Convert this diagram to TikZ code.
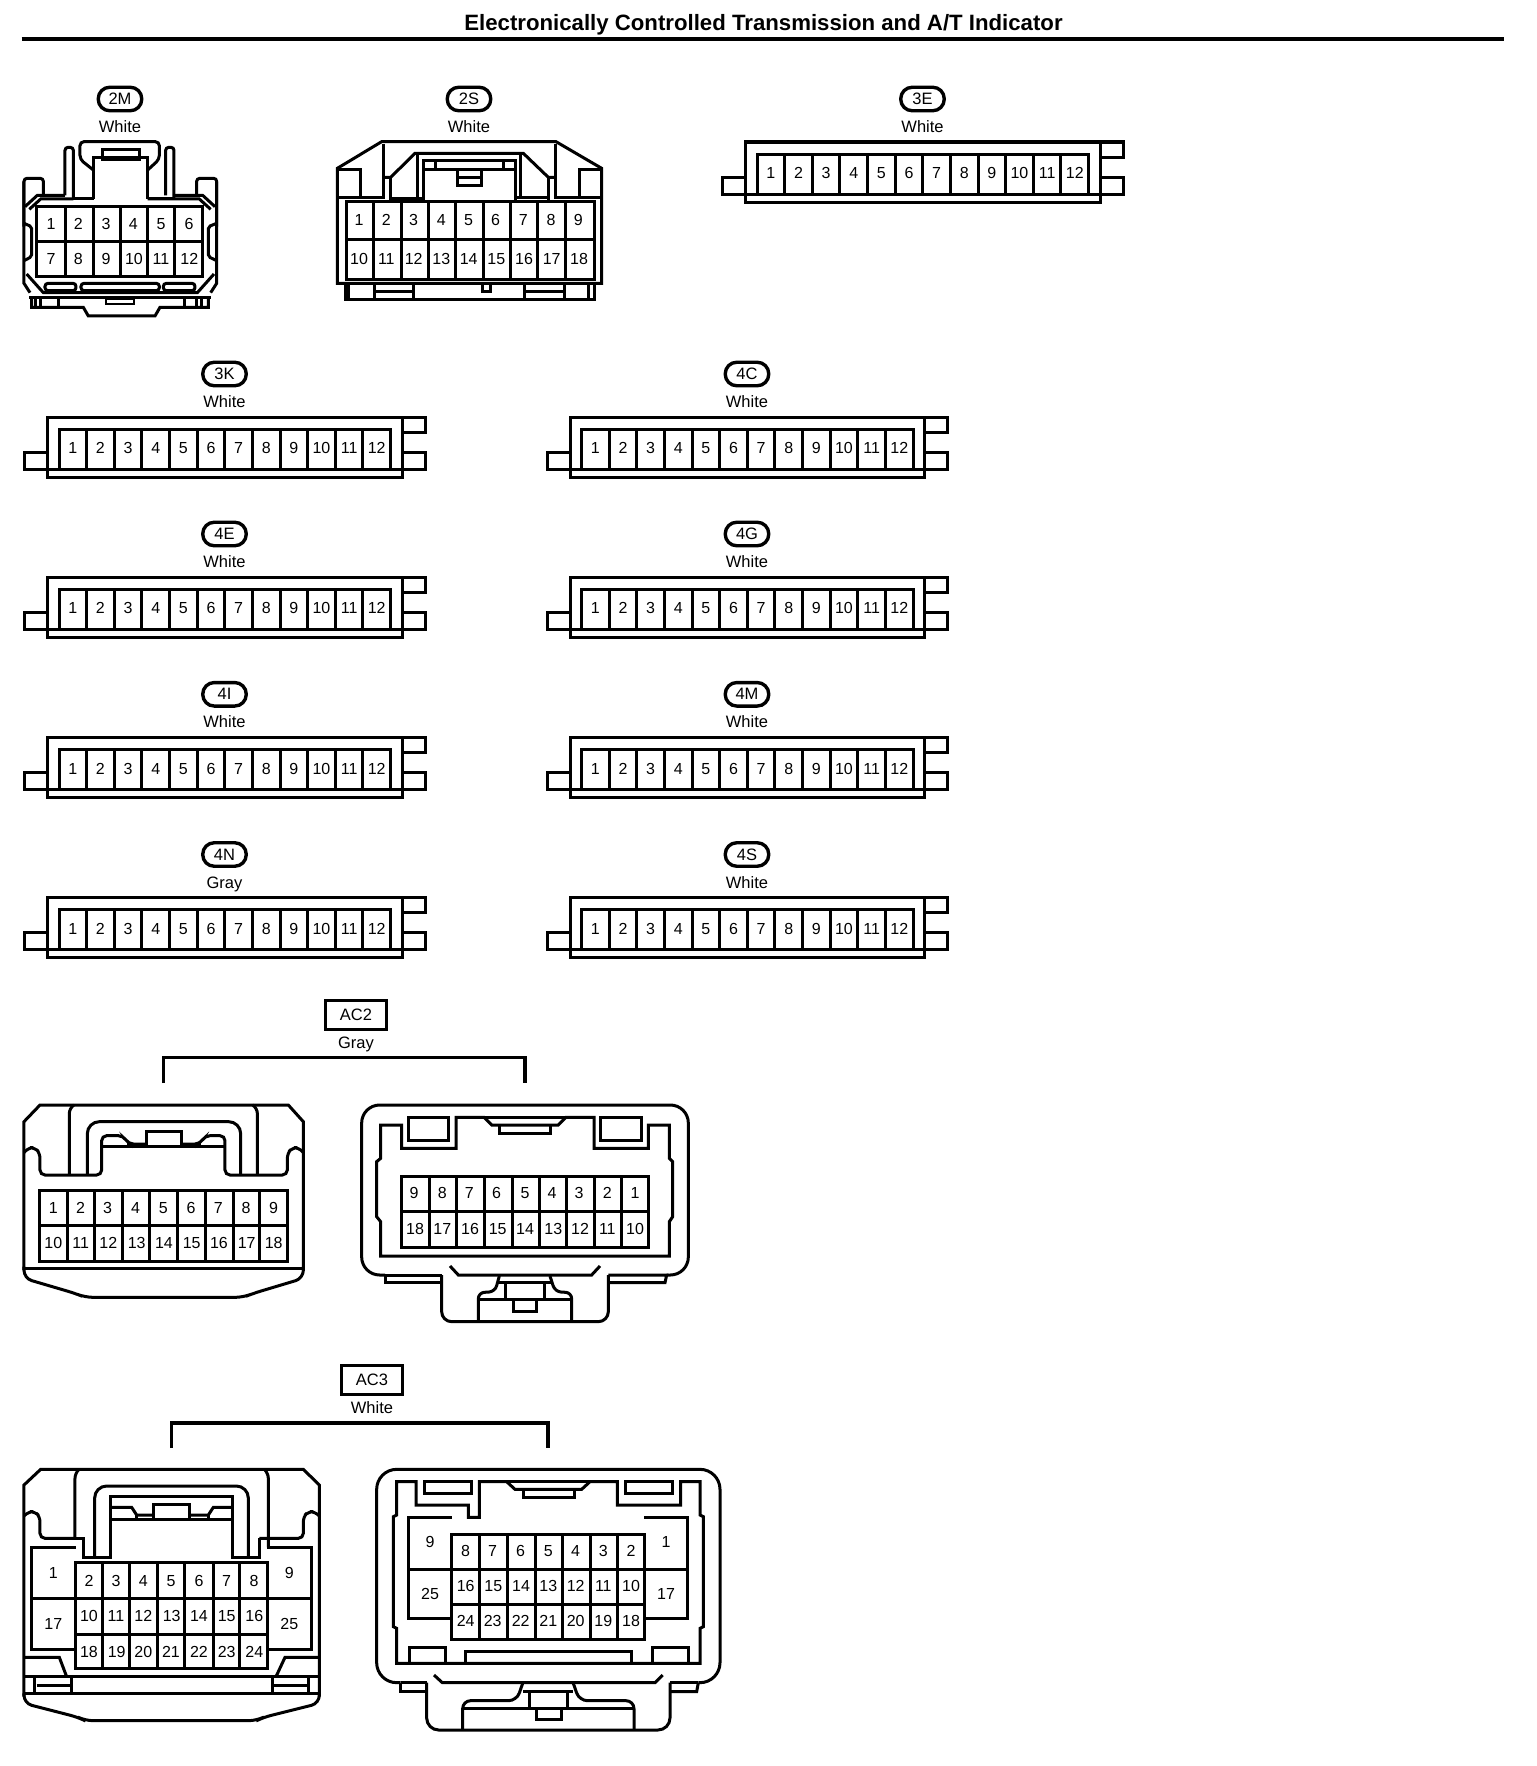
\documentclass[tikz,border=0pt]{standalone}
\usepackage{fontspec}
\setmainfont{Liberation Sans}
\newcommand{\numfont}{\fontsize{16}{16}\selectfont}
\tikzset{
  conn/.style={draw=black,line width=3pt,line join=miter},
  pinlabel/.style={inner sep=0pt,font=\numfont,text=black,text height=11.5pt,text depth=0pt},
  colorlabel/.style={inner sep=0pt,font=\fontsize{16.5}{16.5}\selectfont,text=black,text height=12pt,text depth=3pt},
  badge/.style={draw=black,line width=3.4pt,rounded corners=11.5pt,minimum width=43.5pt,minimum height=23.5pt,inner sep=0pt,font=\fontsize{16.5}{16.5}\selectfont},
  tagbox/.style={draw=black,line width=3pt,minimum width=61pt,minimum height=29pt,inner sep=0pt,font=\fontsize{16.5}{16.5}\selectfont},
  bracket/.style={draw=black,line width=3.2pt,line join=miter}
}
\newcommand{\zcells}[6]{%
  \draw[conn] (#1,#3) rectangle (#2,#4);
  \foreach \vx in {#5} \draw[conn] (\vx,#3) -- (\vx,#4);
  \foreach \hy in {#6} \draw[conn] (#1,\hy) -- (#2,\hy);
}
\newcommand{\zpins}[3]{\foreach \px/\pn in {#3} \node[pinlabel,yshift=-0.4pt] (#1-\pn) at (\px,#2) {\pn};}
\newcommand{\stripconn}[4]{%
  \begin{scope}[shift={(#3,#4)}]
    \node[badge] (b#1) at (177,-43) {#1};
    \node[colorlabel] (c#1) at (177,-14) {#2};
    \draw[conn] (0,0) rectangle (354.5,60);
    \draw[conn] (0,35) -- (-23,35) -- (-23,52) -- (377.5,52) -- (377.5,35) -- (354.5,35);
    \draw[conn] (354.5,0) -- (377.5,0) -- (377.5,15) -- (354.5,15);
    \draw[conn] (11.5,52) -- (11.5,12) -- (343,12) -- (343,52);
    \foreach \k in {1,...,11} \draw[conn] ({11.5+\k*27.63},12) -- ({11.5+\k*27.63},52);
    \foreach \k in {1,...,12} \node[pinlabel] (#1-\k) at ({11.5+(\k-.5)*27.63},31) {\k};
  \end{scope}}
\begin{document}
\begin{tikzpicture}[x=1pt,y=-1pt]
\useasboundingbox (0,0) rectangle (1536,1766);
\node[inner sep=0pt,font=\bfseries\fontsize{22.2}{22.2}\selectfont] (title) at (763.5,25) {Electronically Controlled Transmission and A/T Indicator};
\coordinate (ruleL) at (21.5,39);
\coordinate (ruleR) at (1504,39);
\draw[line width=4pt] (ruleL) -- (ruleR);

% 2M
\node[badge] (b2M) at (120,99) {2M};
\node[colorlabel] (c2M) at (120,127.5) {White};
\begin{scope}[shift={(0,70)},scale=1/3]
 \zcells{110}{608}{410}{620}{197,280,362,443,525}{515}
 \zpins{2M}{460}{153/1,235/2,318/3,400/4,483/5,567/6}
 \zpins{2M}{565}{153/7,235/8,318/9,402/10,483/11,568/12}
 \draw[conn,rounded corners=3pt] (72,470) -- (72,325) -- (130,325) -- (130,375);
 \draw[conn] (72,335) -- (72,640) -- (90,668);
 \draw[conn,rounded corners=2pt] (72,460) -- (95,470) -- (95,560) -- (72,572);
 \draw[conn,rounded corners=3pt] (650,470) -- (650,325) -- (590,325) -- (590,375);
 \draw[conn] (650,335) -- (650,640) -- (632,668);
 \draw[conn,rounded corners=2pt] (650,460) -- (625,470) -- (625,560) -- (650,572);
 \draw[conn] (75,410) -- (112,376) -- (195,376);
 \draw[conn] (88,418) -- (122,387) -- (220,387);
 \draw[conn] (645,410) -- (608,376) -- (522,376);
 \draw[conn] (632,418) -- (598,387) -- (443,387);
 \draw[conn,rounded corners=3pt] (195,376) -- (195,232) -- (220,232) -- (220,390);
 \draw[conn,rounded corners=3pt] (497,376) -- (497,232) -- (522,232) -- (522,390);
 \draw[conn] (282,387) -- (220,387);
 \draw[conn] (443,387) -- (522,387);
 \draw[conn] (280,387) -- (280,263) -- (443,263) -- (443,387);
 \draw[conn,rounded corners=4pt] (280,300) -- (240,268) -- (240,215) -- (478,215) -- (478,268) -- (443,300);
 \draw[conn] (308,263) -- (308,240) -- (418,240) -- (418,268) -- (308,268) -- (308,263);
 \draw[conn] (80,612) -- (130,668) -- (592,668) -- (642,612);
 \draw[conn,rounded corners=3pt] (135,640) rectangle (228,662);
 \draw[conn,rounded corners=3pt] (243,640) rectangle (478,662);
 \draw[conn,rounded corners=3pt] (490,640) rectangle (585,662);
 \draw[conn] (88,682) -- (632,682);
 \draw[conn] (95,682) -- (95,712) -- (250,712) -- (265,738) -- (465,738) -- (480,712) -- (625,712) -- (625,682);
 \foreach \fx in {108,122,175,555,590,605} \draw[conn] (\fx,682) -- (\fx,712);
 \draw[line width=2pt] (318,688) rectangle (402,702);
\end{scope}

% 2S
\node[badge] (b2S) at (469,99) {2S};
\node[colorlabel] (c2S) at (469,127.5) {White};
\begin{scope}[shift={(320,70)},scale=1/3]
 \zcells{78}{822}{395}{630}{160,243,325,407,489,571,653,736}{510}
 \zpins{2S}{447}{117/1,199/2,281/3,364/4,446/5,527/6,610/7,693/8,775/9}
 \zpins{2S}{565}{117/10,199/11,281/12,364/13,446/14,529/15,612/16,695/17,777/18}
 \draw[conn] (52,640) -- (52,295) -- (185,215) -- (708,215) -- (845,295) -- (845,640) -- cycle;
 \draw[conn] (75,640) -- (75,688) -- (822,688) -- (822,640);
 \foreach \fx in {85,163,280,612,732,805} \draw[conn] (\fx,640) -- (\fx,688);
 \draw[conn] (163,665) -- (280,665);
 \draw[conn] (612,665) -- (732,665);
 \draw[conn] (487,640) -- (487,665) -- (512,665) -- (512,640);
 \draw[conn] (52,298) -- (122,298) -- (122,382);
 \draw[conn] (52,382) -- (190,382) -- (190,222);
 \draw[conn] (190,322) -- (212,322) -- (285,250) -- (610,250) -- (685,322) -- (705,322);
 \draw[conn] (705,222) -- (705,382) -- (845,382);
 \draw[conn] (778,382) -- (778,298) -- (845,298);
 \draw[conn] (210,322) -- (210,395);
 \draw[conn] (685,322) -- (685,395);
 \draw[conn] (210,385) -- (310,385);
 \draw[conn] (585,382) -- (685,382);
 \draw[conn] (293,250) -- (293,385);
 \draw[conn] (600,250) -- (600,382);
 \draw[conn] (310,395) -- (310,272) -- (585,272) -- (585,395);
 \draw[conn] (310,298) -- (585,298);
 \draw[conn] (345,272) -- (345,298);
 \draw[conn] (550,272) -- (550,298);
 \draw[conn] (412,298) -- (412,347) -- (485,347) -- (485,298);
 \draw[conn] (412,322) -- (485,322);
\end{scope}

% strips
\stripconn{3E}{White}{745.5}{142}
\stripconn{3K}{White}{47.5}{417}
\stripconn{4C}{White}{570}{417}
\stripconn{4E}{White}{47.5}{577}
\stripconn{4G}{White}{570}{577}
\stripconn{4I}{White}{47.5}{737.3}
\stripconn{4M}{White}{570}{737.3}
\stripconn{4N}{Gray}{47.5}{897.5}
\stripconn{4S}{White}{570}{897.5}

% AC2
\node[tagbox] (bAC2) at (356,1015) {AC2};
\node[colorlabel] (cAC2) at (356,1043.5) {Gray};
\coordinate (AC2l) at (163.3,1083);
\coordinate (AC2r) at (525,1083);
\coordinate (AC2t) at (344,1057.5);
\draw[bracket] (AC2l) |- (AC2t) -| (AC2r);
\begin{scope}[shift={(0,1000)},scale=1/3]
 \zcells{118}{862}{572}{785}{203,285,368,450,533,617,700,780}{675}
 \zpins{AC2a}{622}{160/1,242/2,323/3,407/4,490/5,573/6,655/7,738/8,821/9}
 \zpins{AC2a}{728}{160/10,242/11,325/12,410/13,492/14,575/15,657/16,740/17,821/18}
 \draw[conn,rounded corners=8pt] (72,800) -- (72,835) -- (225,880) -- (255,892) -- (730,892) -- (760,880) -- (910,835) -- (910,800);
 \draw[conn] (72,810) -- (72,365) -- (120,315) -- (865,315) -- (910,365) -- (910,810);
 \draw[conn] (72,805) -- (910,805);
 \draw[conn,rounded corners=5pt] (72,458) -- (85,443) -- (105,443) -- (120,460) -- (120,525) -- (305,525) -- (305,407) -- (370,407) -- (385,432) -- (440,432);
 \draw[conn,rounded corners=5pt] (910,458) -- (897,443) -- (877,443) -- (862,460) -- (862,525) -- (675,525) -- (675,407) -- (615,407) -- (600,432) -- (545,432);
 \draw[conn] (440,440) -- (440,395) -- (545,395) -- (545,440);
 \draw[conn] (305,440) -- (675,440);
 \draw[conn] (385,425) -- (385,440);
 \draw[conn] (600,425) -- (600,440);
 \draw[conn,rounded corners=5pt] (208,525) -- (208,325) -- (222,315);
 \draw[conn,rounded corners=5pt] (772,525) -- (772,325) -- (758,315);
 \draw[conn,rounded corners=12pt] (262,525) -- (262,365) -- (722,365) -- (722,525);
\end{scope}
\begin{scope}[shift={(340,1000)},scale=1/3]
 \zcells{183}{925}{530}{742}{267,350,432,516,597,680,762,845}{635}
 \zpins{AC2b}{577}{222/9,307/8,388/7,470/6,555/5,636/4,717/3,802/2,885/1}
 \zpins{AC2b}{685}{225/18,307/17,390/16,473/15,555/14,640/13,720/12,802/11,885/10}
 \draw[conn,rounded corners=18pt] (135,825) -- (65,825) -- (65,315) -- (1045,315) -- (1045,825) -- (980,825);
 \draw[conn] (135,825) -- (305,825);
 \draw[conn] (135,825) -- (135,848) -- (305,848);
 \draw[conn] (805,825) -- (980,825) -- (975,848) -- (805,848);
 \draw[conn,rounded corners=10pt] (305,825) -- (305,965) -- (805,965) -- (805,825);
 \draw[conn] (122,375) -- (185,375) -- (185,445) -- (348,445) -- (348,352) -- (432,352) -- (455,375) -- (655,375) -- (678,352) -- (762,352) -- (762,445) -- (925,445) -- (925,375) -- (988,375) -- (988,475) -- (998,485) -- (998,650) -- (988,665) -- (988,768) -- (122,768) -- (122,665) -- (110,650) -- (110,485) -- (122,475) -- cycle;
 \draw[conn] (205,352) rectangle (325,420);
 \draw[conn] (782,352) rectangle (905,420);
 \draw[conn] (432,352) -- (678,352);
 \draw[conn] (477,378) -- (477,400) -- (632,400) -- (632,378);
 \draw[conn] (330,798) -- (355,825) -- (755,825) -- (780,798);
 \draw[conn,rounded corners=6pt] (478,828) -- (465,875) -- (415,878) -- (415,965);
 \draw[conn,rounded corners=6pt] (630,828) -- (645,875) -- (695,878) -- (695,965);
 \draw[conn] (415,898) -- (695,898);
 \draw[conn] (478,848) -- (632,848);
 \draw[conn] (497,848) -- (497,898);
 \draw[conn] (612,848) -- (612,898);
 \draw[conn] (520,898) -- (520,935) -- (590,935) -- (590,898);
\end{scope}

% AC3
\node[tagbox] (bAC3) at (372,1380) {AC3};
\node[colorlabel] (cAC3) at (372,1408.5) {White};
\coordinate (AC3l) at (171.7,1448);
\coordinate (AC3r) at (548,1448);
\coordinate (AC3t) at (360,1423);
\draw[bracket] (AC3l) |- (AC3t) -| (AC3r);
\begin{scope}[shift={(0,1360)},scale=1/3]
 \zcells{228}{802}{608}{925}{307,390,472,555,640,720}{715,822}
 \zpins{AC3a}{660}{267/2,348/3,430/4,513/5,597/6,680/7,762/8}
 \zpins{AC3a}{767}{267/10,348/11,430/12,515/13,597/14,680/15,763/16}
 \zpins{AC3a}{873}{267/18,350/19,430/20,513/21,597/22,680/23,763/24}
 \zpins{AC3a}{637}{160/1,868/9}
 \zpins{AC3a}{790}{160/17,868/25}
 \draw[conn] (228,562) -- (95,562) -- (95,868) -- (228,868);
 \draw[conn] (95,715) -- (228,715);
 \draw[conn] (802,562) -- (935,562) -- (935,868) -- (802,868);
 \draw[conn] (802,715) -- (935,715);
 \draw[conn] (72,1010) -- (72,375) -- (122,328) -- (910,328) -- (958,375) -- (958,1010);
 \draw[conn,rounded corners=8pt] (72,1000) -- (72,1030) -- (235,1072) -- (255,1082) -- (770,1082) -- (790,1072) -- (958,1030) -- (958,1000);
 \draw[conn] (72,1000) -- (958,1000);
 \draw[conn] (72,950) -- (958,950);
 \draw[conn,rounded corners=5pt] (72,468) -- (85,455) -- (105,455) -- (120,470) -- (120,535) -- (225,535);
 \draw[conn,rounded corners=5pt] (958,468) -- (945,455) -- (925,455) -- (910,470) -- (910,535) -- (778,535);
 \draw[conn,rounded corners=5pt] (225,535) -- (225,340) -- (237,328);
 \draw[conn,rounded corners=5pt] (805,562) -- (805,340) -- (793,328);
 \draw[conn] (225,535) -- (250,535) -- (250,592) -- (332,592) -- (332,410) -- (698,410) -- (698,592) -- (778,592) -- (778,535);
 \draw[conn,rounded corners=12pt] (284,592) -- (284,378) -- (745,378) -- (745,592);
 \draw[conn] (332,442) -- (395,442) -- (410,465) -- (460,465);
 \draw[conn] (698,442) -- (640,442) -- (625,465) -- (568,465);
 \draw[conn] (460,478) -- (460,432) -- (568,432) -- (568,478);
 \draw[conn] (332,478) -- (698,478);
 \draw[conn] (410,465) -- (410,478);
 \draw[conn] (625,465) -- (625,478);
 \draw[conn] (72,892) -- (178,892) -- (200,950);
 \draw[conn] (958,892) -- (855,892) -- (828,950);
 \draw[conn] (105,950) -- (105,1000);
 \draw[conn] (215,950) -- (215,1000);
 \draw[conn] (110,975) -- (215,975);
 \draw[conn] (818,950) -- (818,1000);
 \draw[conn] (925,950) -- (925,1000);
 \draw[conn] (818,975) -- (925,975);
\end{scope}
\begin{scope}[shift={(360,1360)},scale=1/3]
 \zcells{275}{852}{522}{837}{358,442,525,608,690,772}{628,732}
 \zpins{AC3b}{570}{317/8,398/7,482/6,565/5,647/4,730/3,813/2}
 \zpins{AC3b}{675}{317/16,400/15,483/14,565/13,647/12,730/11,813/10}
 \zpins{AC3b}{782}{317/24,398/23,482/22,565/21,647/20,730/19,813/18}
 \zpins{AC3b}{545}{210/9,918/1}
 \zpins{AC3b}{700}{210/25,918/17}
 \draw[conn] (275,472) -- (145,472) -- (145,775) -- (275,775);
 \draw[conn] (145,628) -- (275,628);
 \draw[conn] (852,472) -- (982,472) -- (982,775) -- (852,775);
 \draw[conn] (852,628) -- (982,628);
 \draw[conn,rounded corners=20pt] (122,968) -- (50,968) -- (50,328) -- (1080,328) -- (1080,968) -- (1015,968);
 \draw[conn] (122,968) -- (200,968);
 \draw[conn] (930,968) -- (1015,968);
 \draw[conn] (122,968) -- (122,995) -- (200,995);
 \draw[conn] (1015,968) -- (1010,995) -- (930,995);
 \draw[conn,rounded corners=12pt] (200,968) -- (200,1110) -- (930,1110) -- (930,968);
 \draw[conn] (110,365) -- (168,365) -- (168,435) -- (325,435) -- (325,472) -- (358,472) -- (358,365) -- (440,365) -- (465,388) -- (665,388) -- (690,365) -- (772,365) -- (772,435) -- (962,435) -- (962,365) -- (1020,365) -- (1020,465) -- (1030,470) -- (1030,800) -- (1020,805) -- (1020,910) -- (110,910) -- (110,805) -- (100,800) -- (100,470) -- (110,465) -- cycle;
 \draw[conn] (440,365) -- (690,365);
 \draw[conn] (192,365) rectangle (335,400);
 \draw[conn] (795,365) rectangle (938,400);
 \draw[conn] (490,390) -- (490,412) -- (642,412) -- (642,390);
 \draw[conn] (148,910) -- (148,862) -- (255,862) -- (255,910);
 \draw[conn] (315,910) -- (315,875) -- (815,875) -- (815,910);
 \draw[conn] (878,910) -- (878,862) -- (985,862) -- (985,910);
 \draw[conn] (222,945) -- (247,968) -- (885,968) -- (908,945);
 \draw[conn,rounded corners=8pt] (488,970) -- (470,1022) -- (308,1022) -- (308,1110);
 \draw[conn,rounded corners=8pt] (640,970) -- (658,1022) -- (822,1022) -- (822,1110);
 \draw[conn] (308,1045) -- (822,1045);
 \draw[conn] (490,995) -- (640,995);
 \draw[conn] (507,995) -- (507,1045);
 \draw[conn] (622,995) -- (622,1045);
 \draw[conn] (528,1045) -- (528,1078) -- (603,1078) -- (603,1045);
\end{scope}
\end{tikzpicture}
\end{document}
